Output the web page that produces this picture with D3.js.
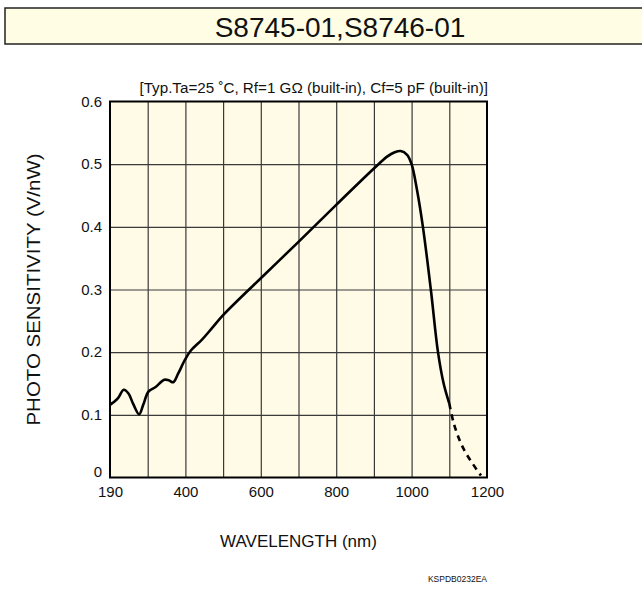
<!DOCTYPE html>
<html>
<head>
<meta charset="utf-8">
<script src="https://cdn.jsdelivr.net/npm/d3@7"></script>
<style>
    body { margin: 0; background: #fff; }
    text { font-family: "Liberation Sans", Arial, sans-serif; fill: #111; }
    .grid line { stroke: #3a3a3a; stroke-width: 1.2; }
    .grid path { display: none; }
    .axis path, .axis line { display: none; }
    .axis text { font-size: 15px; }
</style>
</head>
<body>
<div id="chart"></div>
<script>
// Photo sensitivity vs wavelength, S8745-01 / S8746-01

// solid part of the curve (nm, V/nW)
var wavelength = [190, 200, 214, 230, 244, 258, 275, 287, 302, 320, 344, 356, 368, 381, 399, 415, 444, 470,
                  500, 600, 700, 800, 900, 935, 955, 971, 988, 1000, 1014, 1030, 1051, 1070, 1085, 1100];
var sensitivity = [0.116, 0.120, 0.127, 0.140, 0.134, 0.117, 0.101, 0.116, 0.137, 0.144, 0.156, 0.155, 0.152, 0.166, 0.188, 0.203, 0.220, 0.238,
                   0.259, 0.318, 0.376, 0.435, 0.493, 0.512, 0.519, 0.521, 0.515, 0.500, 0.460, 0.400, 0.300, 0.200, 0.150, 0.118];

// dashed tail past 1100 nm
var tail_wavelength = [1100, 1112, 1129, 1144, 1162, 1184];
var tail_sensitivity = [0.118, 0.086, 0.057, 0.039, 0.022, 0.003];

var x_ticks = [190, 400, 600, 800, 1000, 1200];
var x_grid = [300, 400, 500, 600, 700, 800, 900, 1000, 1100];
var y_ticks = [0, 0.1, 0.2, 0.3, 0.4, 0.5, 0.6];

var title = "S8745-01,S8746-01";
var subtitle = "[Typ.Ta=25 \u02DAC, Rf=1 G\u03A9 (built-in), Cf=5 pF (built-in)]";
var x_label = "WAVELENGTH (nm)";
var y_label = "PHOTO SENSITIVITY (V/nW)";
var code_label = "KSPDB0232EA";

var margin = {top: 101.5, right: 155, bottom: 112.5, left: 110},
    width = 642 - margin.left - margin.right,
    height = 590 - margin.top - margin.bottom;

var svg_root = d3.select("#chart").append("svg")
    .attr("width", 642)
    .attr("height", 590);

// title bar
svg_root.append("rect")
    .attr("x", 5)
    .attr("y", 8)
    .attr("width", 660)
    .attr("height", 36)
    .attr("fill", "#fffde4")
    .attr("stroke", "#222")
    .attr("stroke-width", 1.5);

svg_root.append("text")
    .attr("x", 340)
    .attr("y", 37)
    .attr("text-anchor", "middle")
    .style("font-size", "28px")
    .text(title);

var svg = svg_root.append("g")
    .attr("transform", "translate(" + margin.left + "," + margin.top + ")");

// first column holds 190-300 nm, the rest are 100 nm wide
var x_scale = d3.scaleLinear()
    .domain([190, 300, 1200])
    .range([0, width / 10, width]);

var y_scale = d3.scaleLinear()
    .domain([0, 0.6])
    .range([height, 0]);

// plot background
svg.append("rect")
    .attr("width", width)
    .attr("height", height)
    .attr("fill", "#fffbe6");

// grid
svg.append("g")
    .attr("class", "grid")
    .attr("transform", "translate(0," + height + ")")
    .call(d3.axisBottom(x_scale).tickValues(x_grid).tickSize(-height).tickFormat(""));

svg.append("g")
    .attr("class", "grid")
    .call(d3.axisLeft(y_scale).tickValues(y_ticks.slice(1, -1)).tickSize(-width).tickFormat(""));

// tick labels
svg.append("g")
    .attr("class", "x axis")
    .attr("transform", "translate(0," + height + ")")
    .call(d3.axisBottom(x_scale).tickValues(x_ticks).tickSize(0).tickPadding(9).tickFormat(d3.format("d")));

svg.append("g")
    .attr("class", "y axis")
    .call(d3.axisLeft(y_scale).tickValues(y_ticks).tickSize(0).tickPadding(8)
        .tickFormat(function(d) { return d === 0 ? "0" : d3.format(".1f")(d); }));

// the "0" sits a bit higher in the original
svg.select(".y.axis").selectAll(".tick text")
    .filter(function(d) { return d === 0; })
    .attr("dy", "-0.1em");

// frame
svg.append("rect")
    .attr("width", width)
    .attr("height", height)
    .attr("fill", "none")
    .attr("stroke", "#000")
    .attr("stroke-width", 2);

var line = d3.line()
    .x(function(d) { return x_scale(d[0]); })
    .y(function(d) { return y_scale(d[1]); })
    .curve(d3.curveCatmullRom.alpha(0.5));

svg.append("path")
    .datum(d3.zip(wavelength, sensitivity))
    .attr("d", line)
    .attr("fill", "none")
    .attr("stroke", "#000")
    .attr("stroke-width", 2.6)
    .attr("stroke-linejoin", "round");

svg.append("path")
    .datum(d3.zip(tail_wavelength, tail_sensitivity))
    .attr("d", line)
    .attr("fill", "none")
    .attr("stroke", "#000")
    .attr("stroke-width", 2.6)
    .attr("stroke-dasharray", "6,5");

// subtitle, axis labels
svg.append("text")
    .attr("x", width + 1)
    .attr("y", -9)
    .attr("text-anchor", "end")
    .style("font-size", "15.2px")
    .text(subtitle);

svg.append("text")
    .attr("x", width / 2)
    .attr("y", height + 69)
    .attr("text-anchor", "middle")
    .style("font-size", "17px")
    .text(x_label);

svg.append("text")
    .attr("transform", "translate(" + (40 - margin.left) + "," + (height / 2) + ") rotate(-90) scale(1.17,1)")
    .attr("text-anchor", "middle")
    .style("font-size", "17.5px")
    .text(y_label);

svg_root.append("text")
    .attr("x", 487)
    .attr("y", 582)
    .attr("text-anchor", "end")
    .style("font-size", "8.5px")
    .text(code_label);
</script>
</body>
</html>
